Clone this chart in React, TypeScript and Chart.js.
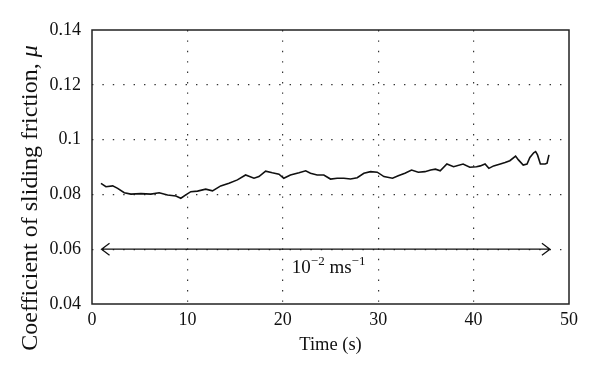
import React, { useEffect, useRef } from "react";
import { Chart, registerables } from "chart.js";

Chart.register(...registerables);

// ---- data ----
const timeS = [
  0.94, 1.46, 2.17, 2.69, 3.38, 4.08, 5.13, 6.17, 7.04, 7.92, 8.79, 9.31, 9.83,
  10.36, 11.06, 11.92, 12.63, 13.49, 14.36, 15.24, 16.1, 16.98, 17.5, 18.2, 18.9,
  19.6, 20.1, 20.8, 21.7, 22.4, 22.9, 23.6, 24.3, 25.0, 25.7, 26.4, 27.1, 27.8,
  28.5, 29.2, 29.9, 30.6, 31.5, 32.1, 32.8, 33.5, 34.2, 34.9, 35.5, 36.0, 36.5,
  37.2, 37.9, 38.9, 39.6, 40.3, 40.7, 41.2, 41.6, 42.1, 42.8, 43.3, 43.8, 44.4,
  44.7, 45.2, 45.6, 45.9, 46.3, 46.5, 46.7, 47.0, 47.5, 47.7, 47.9,
];
const mu = [
  0.084, 0.0828, 0.0831, 0.0822, 0.0806, 0.0801, 0.0803, 0.0801, 0.0806, 0.0798,
  0.0794, 0.0786, 0.0798, 0.081, 0.0812, 0.0819, 0.0813, 0.0831, 0.0841, 0.0853,
  0.0871, 0.0859, 0.0865, 0.0885, 0.0879, 0.0874, 0.0859, 0.0871, 0.0879, 0.0886,
  0.0877, 0.0871, 0.0871, 0.0856, 0.0859, 0.0859, 0.0856, 0.0861, 0.0877, 0.0883,
  0.0881, 0.0865, 0.0859, 0.0868, 0.0877, 0.0889, 0.0881, 0.0883, 0.0889, 0.0892,
  0.0886, 0.0911, 0.0901, 0.0911, 0.0899, 0.0901, 0.0904, 0.0911, 0.0895, 0.0904,
  0.0911, 0.0916, 0.0923, 0.094, 0.0926, 0.0907, 0.0911, 0.0935, 0.0952, 0.0956,
  0.0944, 0.0911, 0.0911, 0.0914, 0.0944,
];
const xRange = [0, 50];
const xStep = 10;
const yRange = [0.04, 0.14];
const yStep = 0.02;
const arrowX = [1, 48];
const arrowY = 0.06;
const speedText = ["10", "\u22122", " ms", "\u22121"];
const speedPos = [24.8, 0.0513];
const xTitle = "Time (s)";
const yTitleMain = "Coefficient of sliding friction, ";
const yTitleSym = "\u03bc";

const FONT = "'Liberation Serif', 'Times New Roman', serif";

const decor = {
  id: "decor",
  afterDatasetsDraw(chart: any) {
    const { ctx, chartArea: a } = chart;
    const xs = chart.scales.x;
    const ys = chart.scales.y;
    ctx.save();
    // frame
    ctx.strokeStyle = "#222";
    ctx.lineWidth = 1.5;
    ctx.strokeRect(a.left, a.top, a.right - a.left, a.bottom - a.top);

    // double arrow
    const x1 = xs.getPixelForValue(arrowX[0]);
    const x2 = xs.getPixelForValue(arrowX[1]);
    const yy = ys.getPixelForValue(arrowY);
    ctx.lineWidth = 1.3;
    ctx.strokeStyle = "#111";
    ctx.beginPath();
    ctx.moveTo(x1, yy);
    ctx.lineTo(x2, yy);
    ctx.moveTo(x1 + 8, yy - 6);
    ctx.lineTo(x1, yy);
    ctx.lineTo(x1 + 8, yy + 6);
    ctx.moveTo(x2 - 8, yy - 6);
    ctx.lineTo(x2, yy);
    ctx.lineTo(x2 - 8, yy + 6);
    ctx.stroke();

    // speed label with superscripts
    ctx.fillStyle = "#111";
    ctx.textBaseline = "alphabetic";
    ctx.textAlign = "left";
    const big = `19px ${FONT}`;
    const small = `13px ${FONT}`;
    const fonts = [big, small, big, small];
    const rises = [0, 8, 0, 8];
    let total = 0;
    const widths = speedText.map((t, i) => {
      ctx.font = fonts[i];
      const w = ctx.measureText(t).width;
      total += w;
      return w;
    });
    let cx = xs.getPixelForValue(speedPos[0]) - total / 2;
    const by = ys.getPixelForValue(speedPos[1]);
    speedText.forEach((t, i) => {
      ctx.font = fonts[i];
      ctx.fillText(t, cx, by - rises[i]);
      cx += widths[i];
    });

    // x title
    ctx.font = `18.5px ${FONT}`;
    ctx.textAlign = "center";
    ctx.textBaseline = "middle";
    ctx.fillText(xTitle, (a.left + a.right) / 2, 345);

    // y title (rotated)
    ctx.translate(31, 198);
    ctx.rotate(-Math.PI / 2);
    ctx.textAlign = "left";
    ctx.font = `24px ${FONT}`;
    const w1 = ctx.measureText(yTitleMain).width;
    ctx.font = `italic 24px ${FONT}`;
    const w2 = ctx.measureText(yTitleSym).width;
    const start = -(w1 + w2) / 2;
    ctx.font = `24px ${FONT}`;
    ctx.fillText(yTitleMain, start, 0);
    ctx.font = `italic 24px ${FONT}`;
    ctx.fillText(yTitleSym, start + w1, 0);
    ctx.restore();
  },
};

export default function App() {
  const ref = useRef<HTMLCanvasElement | null>(null);

  useEffect(() => {
    if (!ref.current) return;
    const gridColor = (c: any) => {
      const n = c.scale.ticks.length;
      return c.index === 0 || c.index === n - 1 ? "rgba(0,0,0,0)" : "#333";
    };
    const chart = new Chart(ref.current, {
      type: "line",
      data: {
        datasets: [
          {
            data: timeS.map((t, i) => ({ x: t, y: mu[i] })),
            borderColor: "#111",
            borderWidth: 1.6,
            pointRadius: 0,
            tension: 0,
            fill: false,
          },
        ],
      },
      options: {
        responsive: false,
        animation: false,
        devicePixelRatio: 1,
        layout: { padding: { top: 30, right: 31, left: 0, bottom: 0 } },
        plugins: { legend: { display: false }, tooltip: { enabled: false } },
        scales: {
          x: {
            type: "linear",
            min: xRange[0],
            max: xRange[1],
            afterFit: (s: any) => {
              s.height = 75;
            },
            ticks: {
              stepSize: xStep,
              padding: 5,
              color: "#111",
              font: { family: FONT, size: 18 },
              maxRotation: 0,
            },
            grid: { color: gridColor, lineWidth: 1.2, drawTicks: false },
            border: { display: false, dash: [1.4, 9] },
          },
          y: {
            type: "linear",
            min: yRange[0],
            max: yRange[1],
            afterFit: (s: any) => {
              s.width = 92;
            },
            ticks: {
              stepSize: yStep,
              padding: 11,
              color: "#111",
              font: { family: FONT, size: 18 },
              callback: (v: any) => String(Number(Number(v).toFixed(2))),
            },
            grid: { color: gridColor, lineWidth: 1.2, drawTicks: false },
            border: { display: false, dash: [1.4, 9] },
          },
        },
      },
      plugins: [decor],
    });
    return () => chart.destroy();
  }, []);

  return (
    <div style={{ position: "absolute", left: 0, top: 0, width: 600, height: 379, background: "#fff" }}>
      <canvas ref={ref} width={600} height={379} />
    </div>
  );
}
